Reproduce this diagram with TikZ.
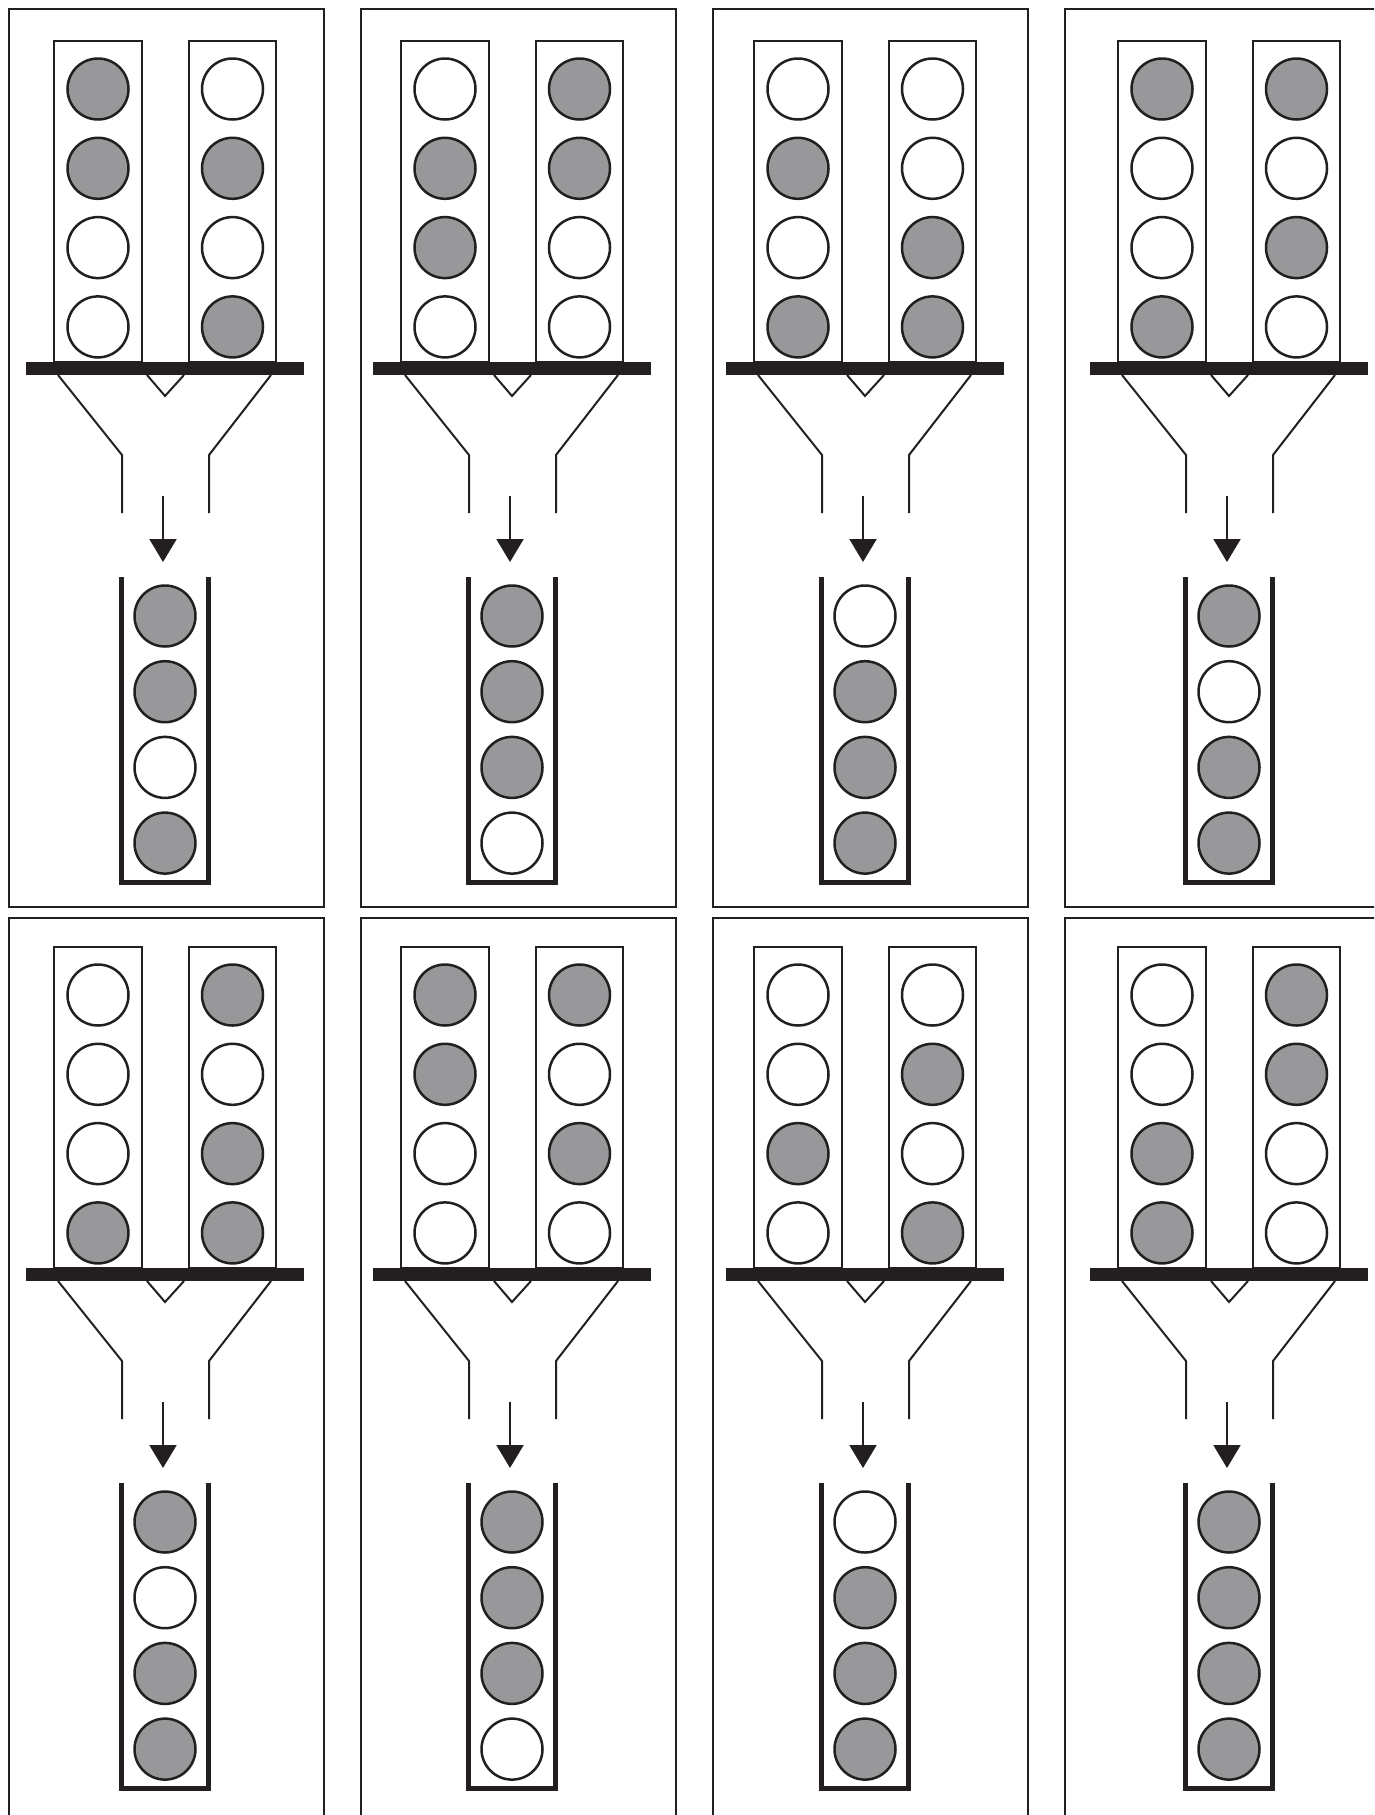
\documentclass[tikz,border=0pt]{standalone}
\usetikzlibrary{arrows.meta}
\definecolor{ink}{RGB}{35,31,32}
\definecolor{ballgray}{RGB}{152,152,154}
\tikzset{
  frame/.style={draw=ink, line width=2.2pt},
  col/.style={draw=ink, line width=2.4pt},
  ball/.style={circle, draw=ink, line width=2.5pt, minimum size=61pt, inner sep=0pt},
  b0/.style={fill=white},
  b1/.style={fill=ballgray},
  funnel/.style={draw=ink, line width=2pt},
  tube/.style={draw=ink, line width=5pt, line join=miter},
  flow/.style={draw=ink, line width=2pt, -{Triangle[length=23pt,width=27pt]}},
}
% #1 name, #2 frame x, #3 content x, #4 content dy, #5 frame top, #6 left col, #7 right col, #8 tube
\newcommand\drawpanel[8]{%
  \draw[frame] (#2,#5) rectangle ++(315,898);
  \begin{scope}[shift={(#3,#4)}]
    \draw[col] (0,41) rectangle (88,362);
    \draw[col] (135,41) rectangle (222,362);
    \foreach \c [count=\i] in {#6} \node[ball,b\c] (#1l\i) at (44,{89+79.3*(\i-1)}) {};
    \foreach \c [count=\i] in {#7} \node[ball,b\c] (#1r\i) at (178.5,{89+79.3*(\i-1)}) {};
    \fill[ink] (-28,362) rectangle (250,375);
    \draw[funnel] (93,375) -- (111,396) -- (130,375);
    \draw[funnel] (4,375) -- (68,455) -- (68,513);
    \draw[funnel] (217,375) -- (155,455) -- (155,513);
    \coordinate (#1s) at (109,496);
    \coordinate (#1e) at (109,562);
    \draw[flow] (#1s) -- (#1e);
    \draw[tube] (67.5,577) -- (67.5,882.5) -- (154.5,882.5) -- (154.5,577);
    \foreach \c [count=\i] in {#8} \node[ball,b\c] (#1t\i) at (111,{616+75.7*(\i-1)}) {};
  \end{scope}
}
\begin{document}
\begin{tikzpicture}[x=1pt,y=-1pt]
\useasboundingbox (0,0) rectangle (1374,1815);
\fill[white] (0,0) rectangle (1374,1815);
\clip (0,0) rectangle (1374,1815);
\drawpanel{pa}{9}{54}{0}{9}{1,1,0,0}{0,1,0,1}{1,1,0,1}
\drawpanel{pb}{361}{401}{0}{9}{0,1,1,0}{1,1,0,0}{1,1,1,0}
\drawpanel{pc}{713}{754}{0}{9}{0,1,0,1}{0,0,1,1}{0,1,1,1}
\drawpanel{pd}{1065}{1118}{0}{9}{1,0,0,1}{1,0,1,0}{1,0,1,1}
\drawpanel{pe}{9}{54}{906}{918}{0,0,0,1}{1,0,1,1}{1,0,1,1}
\drawpanel{pf}{361}{401}{906}{918}{1,1,0,0}{1,0,1,0}{1,1,1,0}
\drawpanel{pg}{713}{754}{906}{918}{0,0,1,0}{0,1,0,1}{0,1,1,1}
\drawpanel{ph}{1065}{1118}{906}{918}{0,0,1,1}{1,1,0,0}{1,1,1,1}
\end{tikzpicture}
\end{document}
